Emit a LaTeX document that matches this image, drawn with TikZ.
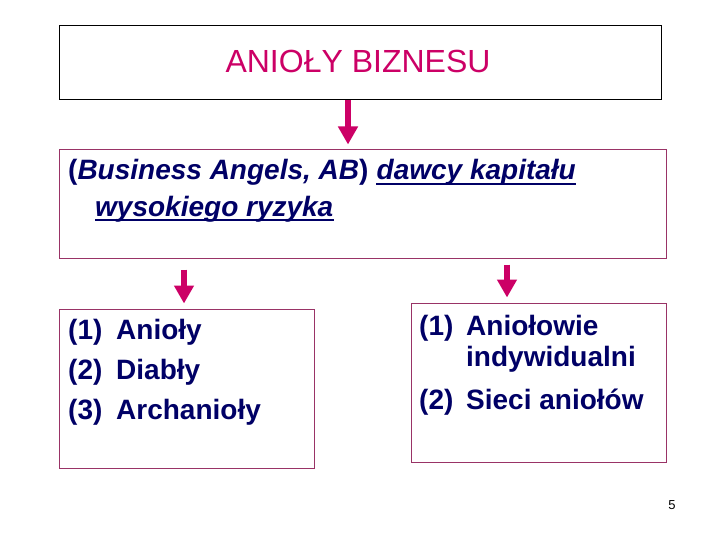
\documentclass[tikz,border=0pt]{standalone}
\usepackage{fontspec}
\setmainfont{Liberation Sans}
\usetikzlibrary{arrows.meta}
\definecolor{angelred}{RGB}{204,0,102}
\definecolor{boxline}{RGB}{153,51,102}
\definecolor{navy}{RGB}{0,0,102}
\tikzstyle{frame}=[rectangle,draw=boxline,line width=1pt,inner sep=0pt]
\tikzstyle{txt}=[anchor=base west,inner sep=0pt,text=navy,font=\fontsize{28}{33}\selectfont\bfseries]
\tikzstyle{uline}=[draw=navy,line width=1.8pt]
\tikzstyle{down}=[-{Triangle[length=18pt,width=19pt]},line width=6.5pt,draw=angelred]

\begin{document}
\begin{tikzpicture}[x=1pt,y=-1pt]
      \useasboundingbox[fill=white] (0,0) rectangle (720,540);
      % boxes
      \node[frame,draw=black,minimum width=602pt,minimum height=74pt] (top) at (360,63) {};
      \node[frame,minimum width=607pt,minimum height=108pt] (ab) at (362.5,204) {};
      \node[frame,minimum width=255pt,minimum height=159pt] (left) at (186.5,388.5) {};
      \node[frame,minimum width=255.5pt,minimum height=158.5pt] (right) at (538.75,382.75) {};
      % texts
      \node[anchor=base,inner sep=0pt,text=angelred,font=\fontsize{32}{38}\selectfont] (title) at (358,73) {ANIOŁY BIZNESU};
      \node[txt] (ab1) at (68,180) {(\textit{Business Angels, AB})};
      \node[txt,xshift=7.8pt] (ab1u) at (ab1.base east) {\textit{dawcy kapitału}};
      \node[txt] (ab2) at (95,216) {\textit{wysokiego ryzyka}};
      \draw[uline] ([yshift=-4pt]ab1u.base west) -- ([yshift=-4pt]ab1u.base east);
      \draw[uline] ([yshift=-4pt]ab2.base west) -- ([yshift=-4pt]ab2.base east);
      \foreach \n/\w [count=\i] in {1/Anioły,2/Diabły,3/Archanioły}{
        \node[txt] (num\i) at (68,299+40*\i) {(\n)};
        \node[txt] (kind\i) at (116,299+40*\i) {\w};
      }
      \node[txt] (r1) at (419,335) {(1)};
      \node[txt] (r1t) at (466,335) {Aniołowie};
      \node[txt] (r1u) at (466,366) {indywidualni};
      \node[txt] (r2) at (419,409) {(2)};
      \node[txt] (r2t) at (466,409) {Sieci aniołów};
      \node[anchor=base,inner sep=0pt,font=\fontsize{13}{15}\selectfont] (page) at (672,509) {5};
      % arrows
      \coordinate (a1) at (348,0);
      \coordinate (a2) at (184,0);
      \coordinate (a3) at (507,0);
      \draw[down,shorten >=5pt] (top.south -| a1) -- (ab.north -| a1);
      \draw[down,shorten <=11pt,shorten >=5pt] (ab.south -| a2) -- (left.north -| a2);
      \draw[down,shorten <=6pt,shorten >=5.5pt] (ab.south -| a3) -- (right.north -| a3);
\end{tikzpicture}
\end{document}
